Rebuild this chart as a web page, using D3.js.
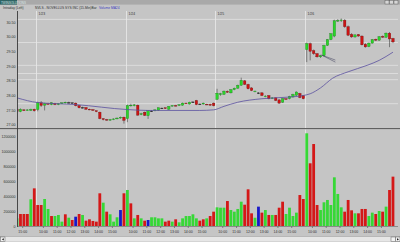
<!DOCTYPE html>
<html><head><meta charset="utf-8">
<script src="https://cdn.jsdelivr.net/npm/d3@7"></script>
<style>html,body{margin:0;padding:0;background:#c5c5c5;overflow:hidden}svg{display:block}</style>
</head><body><svg id="c" width="400" height="242"></svg>
<script>
// ---------- data (15-min bars, 1/22 14:30 .. 1/26 15:45) ----------
const dayLabels = ["1/23","1/24","1/25","1/26"];
const dayStart  = [6, 32, 58, 84];
const hourLabels = ["10:00","11:00","12:00","13:00","14:00","15:00"];
const hourOffsets = [2, 6, 10, 14, 18, 22];
const firstLabel = {idx: 2, text: "15:00"};

const opens = [27.52,27.44,27.50,27.49,27.48,27.52,
 27.51,27.74,27.66,27.71,27.68,27.72,27.68,27.71,27.74,27.75,27.74,27.73,27.65,27.58,27.58,27.52,27.51,27.47,27.42,27.20,27.17,27.15,27.17,27.19,27.22,27.25,
 27.20,27.65,27.64,27.66,27.34,27.42,27.30,27.46,27.47,27.49,27.56,27.57,27.52,27.63,27.65,27.65,27.66,27.73,27.70,27.77,27.82,27.70,27.70,27.69,27.69,27.73,
 27.86,28.02,28.03,28.13,28.08,28.19,28.24,28.34,28.49,28.37,28.25,28.12,28.08,28.08,27.95,27.99,27.89,27.91,27.84,27.76,27.88,27.88,27.94,28.00,28.06,27.98,
 29.56,29.76,29.52,29.42,29.31,29.35,29.70,29.90,30.02,30.53,30.55,30.56,30.34,30.08,29.99,30.07,30.02,29.74,29.66,29.78,29.91,29.88,30.01,29.98,30.12,29.94];
const highs = [27.54,27.55,27.52,27.52,27.54,27.54,
 27.78,27.80,27.74,27.74,27.76,27.74,27.73,27.76,27.78,27.78,27.76,27.75,27.67,27.61,27.59,27.54,27.52,27.48,27.44,27.22,27.19,27.19,27.21,27.24,27.27,27.27,
 27.68,27.71,27.70,27.68,27.40,27.44,27.49,27.49,27.52,27.58,27.58,27.58,27.63,27.66,27.67,27.69,27.75,27.75,27.78,27.79,27.84,27.72,27.75,27.71,27.71,27.75,
 28.22,28.08,28.16,28.16,28.21,28.26,28.36,28.60,28.52,28.39,28.27,28.16,28.10,28.10,28.00,28.00,27.93,27.92,27.86,27.90,27.90,27.98,28.05,28.13,28.08,28.00,
 29.80,29.80,29.56,29.44,29.38,29.72,29.92,30.12,30.58,30.60,30.62,30.60,30.38,30.12,30.08,30.09,30.04,29.78,29.80,29.92,29.93,30.02,30.04,30.14,30.16,29.96];
const lows = [27.42,27.42,27.46,27.47,27.46,27.44,
 27.45,27.60,27.48,27.68,27.66,27.66,27.66,27.70,27.72,27.72,27.72,27.62,27.55,27.55,27.50,27.49,27.47,27.42,27.18,27.14,27.13,27.13,27.15,27.18,27.20,27.03,
 27.08,27.61,27.62,27.30,27.32,27.29,27.19,27.43,27.45,27.47,27.53,27.53,27.50,27.61,27.62,27.63,27.64,27.70,27.68,27.74,27.66,27.68,27.68,27.66,27.64,27.62,
 27.84,27.98,28.01,28.08,28.06,28.17,28.22,28.32,28.35,28.20,28.14,28.10,28.04,27.97,27.93,27.86,27.87,27.80,27.71,27.74,27.85,27.86,27.92,27.98,27.90,27.86,
 29.13,29.19,29.38,29.28,29.27,29.33,29.68,29.88,29.98,30.50,30.50,30.30,30.02,29.96,29.96,30.00,29.70,29.62,29.64,29.76,29.85,29.86,29.96,29.96,29.64,29.78];
const closes = [27.44,27.52,27.49,27.50,27.52,27.47,
 27.74,27.65,27.71,27.70,27.74,27.68,27.71,27.74,27.76,27.75,27.74,27.64,27.57,27.58,27.52,27.51,27.48,27.44,27.20,27.17,27.16,27.17,27.19,27.22,27.25,27.14,
 27.65,27.66,27.67,27.32,27.37,27.31,27.47,27.46,27.50,27.57,27.56,27.55,27.62,27.65,27.64,27.68,27.73,27.72,27.76,27.77,27.68,27.70,27.73,27.68,27.66,27.64,
 28.07,28.05,28.14,28.10,28.19,28.24,28.34,28.51,28.37,28.22,28.16,28.14,28.08,27.99,27.97,27.88,27.91,27.82,27.73,27.88,27.87,27.96,28.03,28.11,27.92,27.88,
 29.76,29.50,29.42,29.31,29.35,29.70,29.90,30.10,30.54,30.56,30.57,30.34,30.05,29.99,30.06,30.02,29.72,29.65,29.78,29.90,29.88,30.00,29.98,30.12,29.92,29.82];

const volumes = [102,160,160,160,356,502,
 280,280,360,227,133,133,147,58,156,111,80,124,160,147,71,89,67,58,436,311,191,156,58,116,213,436,
 480,302,102,147,102,71,80,116,116,102,102,58,71,58,89,49,102,133,133,156,102,71,89,102,133,191,
 249,244,244,333,213,191,227,324,284,489,169,110,258,178,213,147,147,147,244,324,160,244,133,178,413,360,
 1236,836,1093,280,213,316,347,280,649,427,249,191,347,209,169,169,227,227,133,178,160,200,191,258,480,658].map(v => v * 1000);
const volColors = ("grrrgr" +
 "rrggrgggrgrbrgrrrrrgrgggbr" +
 "grgrgrbggggrrgrggggggrrgrr" +
 "gggrggggrrrgbrgrgrrrggggrr" +
 "grrrgggggggrrrgrrrggrgrgrr").split("");

// moving average (bar index, price)
const maIdx = [0, 6, 17, 32, 38, 53, 57, 60, 64, 71, 78, 83, 85, 88, 91.5, 96, 101.5, 105, 109];
const maVal = [27.91,27.75,27.68,27.51,27.48,27.48,27.50,27.62,27.76,27.88,27.93,27.99,28.05,28.25,28.58,28.80,29.02,29.19,29.47];

// small drawn wedge on 1/26
const wedgeIdx = [88.3, 92.3, 92.3];
const wedgeVal = [29.37, 29.20, 29.13];

const priceTicks = [27.0,27.5,28.0,28.5,29.0,29.5,30.0,30.5];
const volTicks = [0,200000,400000,600000,800000,1000000,1200000];
const levels = [30.59, 29.80, 29.02, 28.74, 28.53, 27.71];

// ---------- drawing ----------
const svg = d3.select("#c");
const FONT = "'Liberation Sans', Arial, sans-serif";
const plotL = 17, plotR = 398;
const priceTop = 11, priceBot = 128, volTop = 129.5, volBot = 226;

const xs = d3.scaleLinear().domain([0, 110]).range([15.3, 394.7]);
const xc = i => xs(i + 0.5);
const yP = d3.scaleLinear().domain([27, 30.5]).range([124.5, 22]);
const yV = d3.scaleLinear().domain([0, 1200000]).range([volBot, 136]);

svg.append("rect").attr("width", 400).attr("height", 242).attr("fill", "#c5c5c5");

// title strip
svg.append("rect").attr("x",0).attr("y",0).attr("width",400).attr("height",4.6).attr("fill","#a9a9a9");
svg.append("rect").attr("x",0).attr("y",0).attr("width",17).attr("height",4.6).attr("fill","#2f6464");
svg.append("text").attr("x",1).attr("y",3.6).attr("font-size",3).attr("font-family",FONT)
  .attr("fill","#d8e8e8").text("TWINSOLUTIONS");
[385, 389.5, 394].forEach(x => svg.append("rect").attr("x",x).attr("y",0.4).attr("width",4).attr("height",3.6)
  .attr("fill","#d6d6d6").attr("stroke","#505050").attr("stroke-width",0.4));

// header row
const hdr = svg.append("g").attr("font-family", FONT).attr("font-size", 3.3).attr("fill", "#303030");
hdr.append("text").attr("x",3).attr("y",9.4).text("Intraday (Left)");
hdr.append("text").attr("x",35).attr("y",9.4).text("NVLS - NOVELLUS SYS INC (15-Min)");
hdr.append("text").attr("x",91.5).attr("y",9.4).text("Bar");
hdr.append("text").attr("x",99).attr("y",9.4).attr("fill","#4040c0").text("Volume  MA24");

// clip paths
const defs = svg.append("defs");
defs.append("clipPath").attr("id","cp").append("rect")
  .attr("x",plotL+0.5).attr("y",priceTop).attr("width",plotR-plotL).attr("height",priceBot-priceTop);
defs.append("clipPath").attr("id","cv").append("rect")
  .attr("x",plotL+0.5).attr("y",volTop).attr("width",plotR-plotL).attr("height",volBot-volTop);

// level lines
svg.append("g").selectAll("line").data(levels).join("line")
  .attr("x1",plotL).attr("x2",plotR).attr("y1",d=>yP(d)).attr("y2",d=>yP(d))
  .attr("stroke","#e2e2e2").attr("stroke-width",0.8);

// day separators and labels
const dl = svg.append("g");
dayStart.forEach((s, k) => {
  const x = Math.round(xs(s)) + 0.5;
  dl.append("line").attr("x1",x).attr("x2",x).attr("y1",priceTop).attr("y2",priceBot)
    .attr("stroke","#e6e6e6").attr("stroke-width",0.9);
  dl.append("line").attr("x1",x).attr("x2",x).attr("y1",volTop).attr("y2",volBot)
    .attr("stroke","#e6e6e6").attr("stroke-width",0.9);
  dl.append("text").attr("x",x+2).attr("y",15).attr("font-family",FONT).attr("font-size",3.4)
    .attr("fill","#303030").text(dayLabels[k]);
});

// candles
const bars = d3.range(opens.length).map(i => ({i, o:opens[i], h:highs[i], l:lows[i], c:closes[i]}));
const cg = svg.append("g").attr("clip-path","url(#cp)");
cg.selectAll("line.w").data(bars).join("line").attr("class","w")
  .attr("x1",d=>xc(d.i)).attr("x2",d=>xc(d.i)).attr("y1",d=>yP(d.h)).attr("y2",d=>yP(d.l))
  .attr("stroke","#2a2a2a").attr("stroke-width",0.5);
cg.selectAll("rect").data(bars).join("rect")
  .attr("x",d=>xc(d.i)-1.25).attr("width",2.5)
  .attr("y",d=>Math.min(yP(d.o),yP(d.c)))
  .attr("height",d=>Math.max(0.7, Math.abs(yP(d.o)-yP(d.c))))
  .attr("fill",d=> d.c>d.o ? "#2ad42a" : d.c<d.o ? "#cc1414" : "#202020")
  .attr("stroke",d=> d.c>d.o ? "#157a15" : d.c<d.o ? "#6a0a0a" : "#202020")
  .attr("stroke-width",0.3);

// moving average
const maPts = maIdx.map((d,k)=>[xc(d), yP(maVal[k])]);
svg.append("path").attr("d", d3.line().curve(d3.curveMonotoneX)(maPts))
  .attr("fill","none").attr("stroke","#5a50a0").attr("stroke-width",0.8);

// wedge lines
const wg = svg.append("g").attr("stroke","#3c3c5a").attr("stroke-width",0.5);
[1,2].forEach(k => wg.append("line")
  .attr("x1",xc(wedgeIdx[0])).attr("y1",yP(wedgeVal[0]))
  .attr("x2",xc(wedgeIdx[k])).attr("y2",yP(wedgeVal[k])));

// pane separator
svg.append("line").attr("x1",0).attr("x2",400).attr("y1",128.6).attr("y2",128.6)
  .attr("stroke","#555555").attr("stroke-width",1);

// volume bars
const vcol = {g:"#36d836", r:"#d41818", b:"#1818c8"};
const vg = svg.append("g").attr("clip-path","url(#cv)");
vg.selectAll("rect").data(bars).join("rect")
  .attr("x",d=>xc(d.i)-1.4).attr("width",2.8)
  .attr("y",d=>yV(volumes[d.i])).attr("height",d=>volBot-yV(volumes[d.i]))
  .attr("fill",d=>vcol[volColors[d.i]]);

// axes
const axP = svg.append("g").attr("transform",`translate(${plotL},0)`)
  .call(d3.axisLeft(yP).tickValues(priceTicks).tickFormat(d3.format(".2f")).tickSize(0).tickPadding(1.6));
const axV = svg.append("g").attr("transform",`translate(${plotL},0)`)
  .call(d3.axisLeft(yV).tickValues(volTicks).tickFormat(d3.format("d")).tickSize(0).tickPadding(1.6));
[axP, axV].forEach(a => {
  a.select(".domain").remove();
  a.selectAll("text").attr("font-family",FONT).attr("font-size",3.6).attr("fill","#303030");
});
svg.append("line").attr("x1",plotL+0.5).attr("x2",plotL+0.5).attr("y1",priceTop).attr("y2",volBot+1)
  .attr("stroke","#3a3a3a").attr("stroke-width",0.9);

const xTickIdx = [firstLabel.idx];
const xTickLab = [firstLabel.text];
dayStart.forEach(s => hourOffsets.forEach((o,k) => { xTickIdx.push(s+o); xTickLab.push(hourLabels[k]); }));
const axX = svg.append("g").attr("transform",`translate(0,${volBot+0.5})`)
  .call(d3.axisBottom(xs).tickValues(xTickIdx).tickFormat((d,k)=>xTickLab[k]).tickSize(1.5).tickPadding(2.2));
axX.select(".domain").attr("d",`M${plotL},0H${plotR}`).attr("stroke","#505050").attr("stroke-width",0.5);
axX.selectAll("line").attr("stroke","#303030").attr("stroke-width",0.5);
axX.selectAll("text").attr("font-family",FONT).attr("font-size",3.5).attr("fill","#303030");

// bottom scrollbar
svg.append("rect").attr("x",0).attr("y",236.5).attr("width",400).attr("height",5.5)
  .attr("fill","#e6e6e6").attr("stroke","#8a8a8a").attr("stroke-width",0.4);
svg.append("rect").attr("x",0.5).attr("y",237).attr("width",4.5).attr("height",4.5)
  .attr("fill","#f2f2f2").attr("stroke","#404040").attr("stroke-width",0.4);
svg.append("rect").attr("x",391).attr("y",237).attr("width",4.5).attr("height",4.5)
  .attr("fill","#f2f2f2").attr("stroke","#404040").attr("stroke-width",0.4);
svg.append("rect").attr("x",395.5).attr("y",237).attr("width",4.5).attr("height",4.5)
  .attr("fill","#f2f2f2").attr("stroke","#404040").attr("stroke-width",0.4);
svg.append("path").attr("d","M3.8,238.2L1.8,239.3L3.8,240.4Z").attr("fill","#202020");
svg.append("path").attr("d","M397,238.2L399,239.3L397,240.4Z").attr("fill","#202020");
</script></body></html>
